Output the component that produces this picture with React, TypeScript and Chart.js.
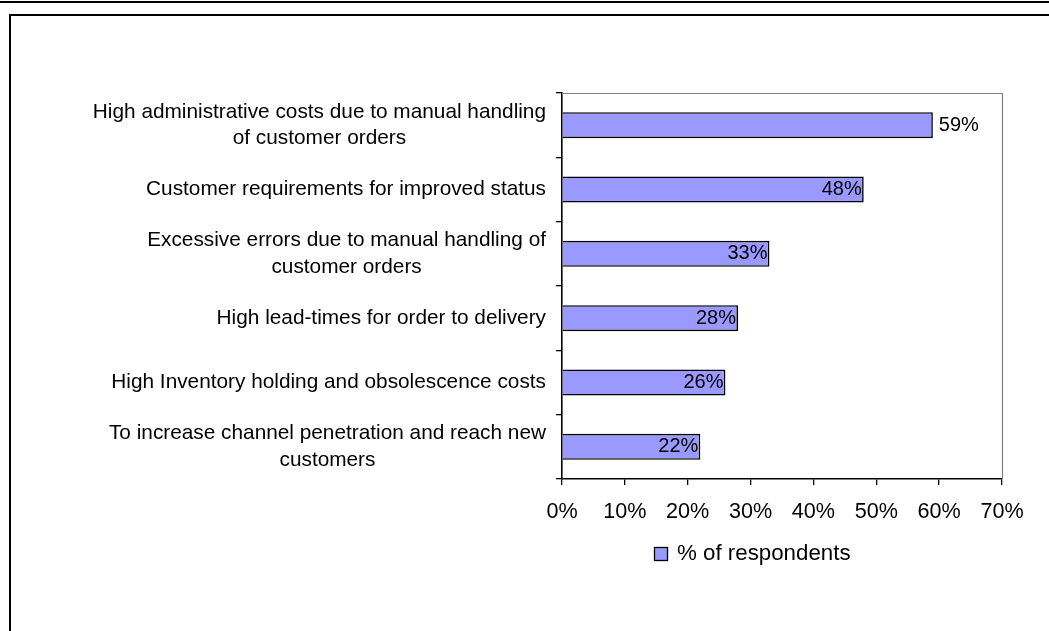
import React, { useEffect, useRef } from "react";
import { Chart, registerables } from "chart.js";

Chart.register(...registerables);

const categories: string[][] = [
  ["High administrative costs due to manual handling", "of customer orders"],
  ["Customer requirements for improved status"],
  ["Excessive errors due to manual handling of", "customer orders"],
  ["High lead-times for order to delivery"],
  ["High Inventory holding and obsolescence costs"],
  ["To increase channel penetration and reach new", "customers"],
];
const respondents: number[] = [59, 48, 33, 28, 26, 22];
const seriesName = "% of respondents";
const xTickValues: number[] = [0, 10, 20, 30, 40, 50, 60, 70];

const FONT = "'Liberation Sans', Arial, sans-serif";
const BAR_FILL = "#9999FF";

const decorPlugin = {
  id: "decor",
  afterDraw(chart: any) {
    const { ctx, chartArea: a, scales } = chart;
    const ys = scales.y;
    ctx.save();
    // plot area border (top + right), grey
    ctx.strokeStyle = "#808080";
    ctx.lineWidth = 1.2;
    ctx.beginPath();
    ctx.moveTo(a.left, Math.round(a.top) + 0.5);
    ctx.lineTo(Math.round(a.right) + 0.5, Math.round(a.top) + 0.5);
    ctx.lineTo(Math.round(a.right) + 0.5, a.bottom);
    ctx.stroke();

    // category labels: block right-aligned, lines centred within block
    ctx.fillStyle = "#000";
    ctx.font = `20.8px ${FONT}`;
    ctx.textAlign = "center";
    ctx.textBaseline = "middle";
    const labels = chart.data.labels as string[][];
    const lh = 26.7;
    labels.forEach((lines, i) => {
      const cy = ys.getPixelForValue(i);
      const w = Math.max(...lines.map((l) => ctx.measureText(l).width));
      const cx = a.left - 16 - w / 2;
      lines.forEach((l, j) => {
        ctx.fillText(l, cx, cy + (j - (lines.length - 1) / 2) * lh);
      });
    });

    // data labels
    const meta = chart.getDatasetMeta(0);
    const data = chart.data.datasets[0].data as number[];
    const max = Math.max(...data);
    ctx.font = `20px ${FONT}`;
    meta.data.forEach((bar: any, i: number) => {
      const v = data[i];
      const { x, y } = bar.getProps(["x", "y"], true);
      const text = `${v}%`;
      if (v === max) {
        ctx.textAlign = "left";
        ctx.fillText(text, x + 6, y);
      } else {
        ctx.textAlign = "right";
        ctx.fillText(text, x - 2, y);
      }
    });

    // legend
    const lx = 654.5;
    const ly = 547.5;
    ctx.fillStyle = BAR_FILL;
    ctx.fillRect(lx, ly, 13, 13);
    ctx.strokeStyle = "#000";
    ctx.lineWidth = 1.3;
    ctx.strokeRect(lx, ly, 13, 13);
    ctx.fillStyle = "#000";
    ctx.font = `22.3px ${FONT}`;
    ctx.textAlign = "left";
    ctx.textBaseline = "middle";
    ctx.fillText(chart.data.datasets[0].label, 677, 554);
    ctx.restore();
  },
};

export default function App() {
  const canvasRef = useRef<HTMLCanvasElement | null>(null);

  useEffect(() => {
    if (!canvasRef.current) return;
    const chart = new Chart(canvasRef.current, {
      type: "bar",
      data: {
        labels: categories as any,
        datasets: [
          {
            label: seriesName,
            data: respondents,
            backgroundColor: BAR_FILL,
            borderColor: "#000",
            borderWidth: 1.6,
            categoryPercentage: 1,
            barPercentage: 0.405,
          },
        ],
      },
      options: {
        indexAxis: "y",
        responsive: false,
        animation: false,
        devicePixelRatio: 1,
        layout: { padding: { left: 556, top: 93, right: 47, bottom: 102 } },
        plugins: {
          legend: { display: false },
          tooltip: { enabled: false },
        },
        scales: {
          x: {
            type: "linear",
            min: 0,
            max: 70,
            afterBuildTicks: (scale: any) => {
              scale.ticks = xTickValues.map((v) => ({ value: v }));
            },
            afterFit: (scale: any) => {
              scale.height = 50;
            },
            ticks: {
              color: "#000",
              font: { family: FONT, size: 21.6 },
              padding: 14,
              maxRotation: 0,
              callback: (v: any) => `${v}%`,
            },
            grid: {
              drawOnChartArea: false,
              drawTicks: true,
              tickLength: 6,
              color: "#000",
              lineWidth: 1.3,
            },
            border: { color: "#000", width: 1.6 },
          },
          y: {
            type: "category",
            afterFit: (scale: any) => {
              scale.width = 6;
            },
            ticks: { display: false },
            grid: {
              offset: true,
              drawOnChartArea: false,
              drawTicks: true,
              tickLength: 6,
              color: "#000",
              lineWidth: 1.3,
            },
            border: { color: "#000", width: 1.6 },
          },
        },
      } as any,
      plugins: [decorPlugin],
    });
    return () => chart.destroy();
  }, []);

  return (
    <div
      style={{
        position: "absolute",
        left: 0,
        top: 0,
        width: 1049,
        height: 631,
        overflow: "hidden",
        background: "#fff",
      }}
    >
      <div
        style={{
          position: "absolute",
          left: 0,
          top: 1,
          width: 1049,
          height: 2,
          background: "#000",
        }}
      />
      <div
        style={{
          position: "absolute",
          left: 9,
          top: 14,
          width: 2000,
          height: 2000,
          borderLeft: "2px solid #000",
          borderTop: "2px solid #000",
        }}
      />
      <canvas
        ref={canvasRef}
        width={1049}
        height={631}
        style={{ position: "absolute", left: 0, top: 0, width: 1049, height: 631 }}
      />
    </div>
  );
}
